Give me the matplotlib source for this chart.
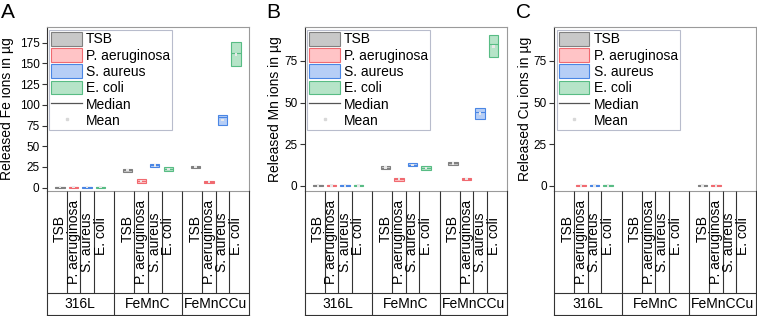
import numpy as np
import matplotlib
matplotlib.use("Agg")
import matplotlib.pyplot as plt
from matplotlib.patches import Patch
from matplotlib.lines import Line2D

plt.rcParams['font.family'] = ['Liberation Sans', 'DejaVu Sans']

groups = ['316L', 'FeMnC', 'FeMnCCu']
media = ['TSB', 'P. aeruginosa', 'S. aureus', 'E. coli']
nan = np.nan

# order: 316L (TSB, P.aer, S.aur, E.coli), FeMnC (...), FeMnCCu (...)
fe_q1 = [0.2, 0.2, 0.2, 0.2, 19.5, 6.1, 24.8, 20.7, 23.9, 6.1, 75.8, 147.5]
fe_q3 = [1.0, 1.0, 1.0, 1.0, 23.0, 10.2, 28.8, 24.8, 26.7, 8.1, 88.0, 175.4]
fe_med = [0.6, 0.6, 0.6, 0.6, 21.3, 8.2, 27.0, 22.8, 25.5, 7.2, 85.5, 162.8]
fe_mean = [0.6, 0.6, 0.6, 0.6, 21.3, 8.2, 26.8, 22.8, 25.3, 7.1, 82.0, 161.0]

mn_q1 = [0.0, 0.0, 0.0, 0.0, 10.1, 3.2, 11.7, 9.7, 12.7, 3.6, 40.0, 77.1]
mn_q3 = [0.6, 0.6, 0.6, 0.6, 11.9, 5.0, 13.7, 11.7, 14.3, 4.8, 46.9, 90.3]
mn_med = [0.3, 0.3, 0.3, 0.3, 11.0, 4.1, 12.7, 10.7, 13.5, 4.2, 44.5, 84.9]
mn_mean = [0.3, 0.3, 0.3, 0.3, 11.0, 4.1, 12.6, 10.7, 13.4, 4.2, 43.5, 83.5]

cu_q1 = [nan, 0.0, 0.0, 0.0, nan, nan, nan, nan, 0.0, 0.0, nan, nan]
cu_q3 = [nan, 0.6, 0.6, 0.6, nan, nan, nan, nan, 0.8, 0.8, nan, nan]
cu_med = [nan, 0.3, 0.3, 0.3, nan, nan, nan, nan, 0.4, 0.4, nan, nan]
cu_mean = [nan, 0.3, 0.3, 0.3, nan, nan, nan, nan, 0.4, 0.4, nan, nan]

face_colors = ['#c8c8c8', '#ffc4c6', '#b6cef6', '#b6e4c8']
edge_colors = ['#808080', '#f06a70', '#4a86e4', '#58bc84']
label_y = [86, 73, 73, 79]   # vertical centre of each rotated medium label in the table

W, H = 757, 316
fig = plt.figure(figsize=(W / 100, H / 100), dpi=100)


def px_axes(x0, x1, ytop, ybot):
    return fig.add_axes([x0 / W, 1 - ybot / H, (x1 - x0) / W, (ybot - ytop) / H])


panels = [
    dict(letter='A', x0=46.5, x1=249.5, q1=fe_q1, q3=fe_q3, med=fe_med, mean=fe_mean,
         ylim=(-4, 194), yticks=[0, 25, 50, 75, 100, 125, 150, 175],
         ylabel='Released Fe ions in µg', lx=-0.158, letter_x=1),
    dict(letter='B', x0=304.5, x1=507, q1=mn_q1, q3=mn_q3, med=mn_med, mean=mn_mean,
         ylim=(-3, 95.3), yticks=[0, 25, 50, 75],
         ylabel='Released Mn ions in µg', lx=-0.111, letter_x=266),
    dict(letter='C', x0=554, x1=756.5, q1=cu_q1, q3=cu_q3, med=cu_med, mean=cu_mean,
         ylim=(-3, 95.3), yticks=[0, 25, 50, 75],
         ylabel='Released Cu ions in µg', lx=-0.110, letter_x=516),
]

bw = 0.68
positions = [g * 5 + i + 1 for g in range(len(groups)) for i in range(len(media))]
frame_col = '#9a9a9a'
dark = '#333333'

for p in panels:
    ax = px_axes(p['x0'], p['x1'], 27, 191)
    ax.set_xlim(0, 15)
    ax.set_ylim(*p['ylim'])
    for k, pos in enumerate(positions):
        q1, q3 = p['q1'][k], p['q3'][k]
        if np.isnan(q1):
            continue
        m = k % 4
        ax.bar(pos, q3 - q1, bottom=q1, width=bw, color=face_colors[m],
               edgecolor=edge_colors[m], linewidth=0.8, zorder=2)
        ax.hlines(p['med'][k], pos - bw / 2, pos + bw / 2, color=edge_colors[m],
                  lw=0.8, zorder=3)
        ax.scatter([pos], [p['mean'][k]], marker='s', s=3, color='#e8e8e8',
                   edgecolors='none', zorder=4)
    ax.set_xticks([])
    ax.set_yticks(p['yticks'])
    ax.tick_params(axis='y', labelsize=8.5, length=3.5, width=0.8, pad=1.5, color=dark)
    for s in ['top', 'right', 'bottom']:
        ax.spines[s].set_color(frame_col)
        ax.spines[s].set_linewidth(0.8)
    ax.spines['left'].set_color(dark)
    ax.spines['left'].set_linewidth(0.8)
    ax.set_ylabel(p['ylabel'], fontsize=10)
    ax.yaxis.set_label_coords(p['lx'], 0.5)

    handles = [Patch(facecolor=face_colors[i], edgecolor=edge_colors[i], linewidth=0.8)
               for i in range(4)]
    handles += [Line2D([], [], color='#555555', lw=0.9),
                Line2D([], [], marker='s', ls='none', color='#d8d8d8', ms=1.8)]
    leg = ax.legend(handles, media + ['Median', 'Mean'], loc='upper left', fontsize=10,
                    frameon=True, fancybox=False, edgecolor='#b8bccc', framealpha=1,
                    borderaxespad=0.2, borderpad=0.15, labelspacing=0.12,
                    handleheight=1.15, handlelength=2.2, handletextpad=0.3)
    leg.get_frame().set_linewidth(0.8)

    # category table
    tx = px_axes(p['x0'], p['x1'], 191, 315)
    tx.set_xlim(0, 15)
    tx.set_ylim(0, 124)
    tx.set_xticks([])
    tx.set_yticks([])
    tx.patch.set_alpha(0)
    tx.spines['top'].set_visible(False)
    for s in ['left', 'right', 'bottom']:
        tx.spines[s].set_color(dark)
        tx.spines[s].set_linewidth(0.8)
    tx.hlines(22, 0, 15, color=dark, lw=0.8)
    for g in range(len(groups)):
        if g > 0:
            tx.vlines(g * 5, 0, 124, color=dark, lw=0.8)
        for d in (1.5, 2.5, 3.5):
            tx.vlines(g * 5 + d, 22, 124, color=dark, lw=0.8)
        tx.text(g * 5 + 2.5, 11, groups[g], ha='center', va='center', fontsize=10)
    for k, pos in enumerate(positions):
        tx.text(pos, label_y[k % 4], media[k % 4], rotation=90, ha='center',
                va='center', fontsize=10)

    fig.text(p['letter_x'] / W, 1 - 18 / H, p['letter'], fontsize=15,
             ha='left', va='baseline')

fig.savefig('out.png', dpi=100)
